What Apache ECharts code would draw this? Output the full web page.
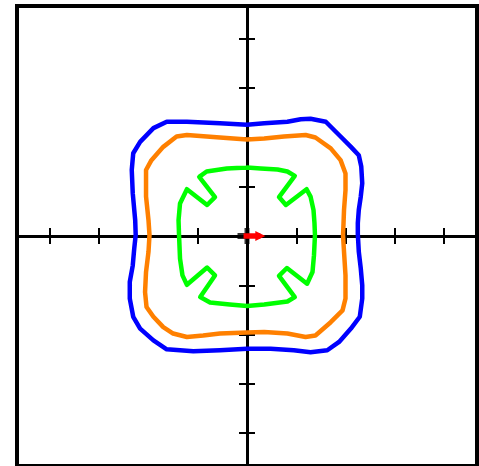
<!DOCTYPE html>
<html>
<head>
<meta charset="utf-8">
<script src="https://cdn.jsdelivr.net/npm/echarts@6/dist/echarts.min.js"></script>
<style>
  html, body { margin: 0; padding: 0; background: #fff; }
  #chart { width: 479px; height: 466px; }
</style>
</head>
<body>
<div id="chart"></div>
<script>
  // axis range and tick positions (same on both axes)
  var axisMin = -4.67;
  var axisMax = 4.67;
  var tickValues = [-4, -3, -2, -1, 1, 2, 3, 4];

  // outer curve (blue), read clockwise from the top
  var blueCurve = [
    [0, 2.26], [0.35, 2.29], [0.82, 2.32], [1.09, 2.37], [1.29, 2.38], [1.60, 2.32],
    [1.90, 2.02], [2.11, 1.81], [2.27, 1.64], [2.32, 1.41], [2.34, 1.07], [2.31, 0.80],
    [2.27, 0.53], [2.25, 0.26], [2.25, 0.04], [2.27, -0.32], [2.31, -0.66], [2.34, -1.00],
    [2.34, -1.27], [2.29, -1.64], [2.11, -1.88], [1.87, -2.15], [1.63, -2.32], [1.29, -2.36],
    [0.95, -2.32], [0.48, -2.29], [0, -2.29], [-0.55, -2.32], [-1.09, -2.34], [-1.63, -2.30],
    [-1.90, -2.12], [-2.17, -1.88], [-2.31, -1.64], [-2.38, -1.27], [-2.38, -0.93], [-2.32, -0.60],
    [-2.29, -0.26], [-2.26, 0.02], [-2.27, 0.32], [-2.32, 0.87], [-2.34, 1.34], [-2.31, 1.68],
    [-2.17, 1.91], [-1.90, 2.19], [-1.63, 2.32], [-1.22, 2.32], [-0.55, 2.29], [0, 2.26]
  ];

  // middle curve (orange)
  var orangeCurve = [
    [0, 1.96], [0.35, 1.98], [0.75, 2.02], [1.19, 2.05], [1.39, 2.00], [1.70, 1.78],
    [1.90, 1.54], [2.00, 1.27], [2.00, 0.93], [1.97, 0.53], [1.96, 0.26], [1.95, 0.02],
    [1.97, -0.32], [2.00, -0.80], [2.00, -1.27], [1.94, -1.51], [1.70, -1.75], [1.39, -2.02],
    [1.19, -2.05], [0.82, -1.98], [0.35, -1.95], [0, -1.96], [-0.55, -1.98], [-0.89, -2.02],
    [-1.22, -2.05], [-1.50, -1.98], [-1.70, -1.85], [-1.90, -1.64], [-2.04, -1.44], [-2.07, -1.14],
    [-2.05, -0.73], [-2.00, -0.32], [-1.98, 0.02], [-2.00, 0.32], [-2.05, 0.80], [-2.05, 1.34],
    [-1.94, 1.54], [-1.70, 1.81], [-1.43, 2.02], [-1.22, 2.05], [-0.55, 2.00], [0, 1.96]
  ];

  // inner curve (green) with the four notches
  var greenCurve = [
    [0, 1.39], [0.28, 1.37], [0.62, 1.35], [0.82, 1.31], [0.97, 1.22], [0.65, 0.79],
    [0.79, 0.63], [1.21, 0.95], [1.29, 0.80], [1.35, 0.53], [1.37, 0.26], [1.38, 0.02],
    [1.36, -0.39], [1.33, -0.73], [1.22, -0.97], [0.81, -0.65], [0.65, -0.81], [0.97, -1.24],
    [0.82, -1.33], [0.35, -1.39], [0, -1.42], [-0.35, -1.39], [-0.75, -1.35], [-0.95, -1.24],
    [-0.65, -0.80], [-0.81, -0.64], [-1.22, -0.99], [-1.31, -0.80], [-1.36, -0.46], [-1.38, 0.02],
    [-1.39, 0.32], [-1.36, 0.66], [-1.22, 0.95], [-0.81, 0.63], [-0.65, 0.79], [-0.97, 1.20],
    [-0.82, 1.31], [-0.41, 1.37], [0, 1.39]
  ];

  // small arrow at the origin
  var originPoint = [0, 0];
  var arrowStart = [-0.07, 0];
  var arrowEnd = [0.27, 0];

  var myChart = echarts.init(document.getElementById('chart'));

  function makeAxis(position) {
    return {
      type: 'value',
      position: position,
      min: axisMin,
      max: axisMax,
      axisLine: {
        show: true,
        onZero: true,
        onZeroAxisIndex: 0,
        lineStyle: {color: '#000', width: 3}
      },
      axisTick: {
        show: true,
        inside: false,
        length: 8,
        customValues: tickValues,
        lineStyle: {color: '#000', width: 2}
      },
      axisLabel: {show: false},
      splitLine: {show: false}
    };
  }

  function curve(data, color) {
    return {
      type: 'line',
      data: data,
      showSymbol: false,
      symbol: 'none',
      smooth: false,
      lineStyle: {color: color, width: 4.5, join: 'round', cap: 'round'},
      z: 3
    };
  }

  var option = {
    animation: false,
    backgroundColor: '#fff',
    grid: {
      left: 17,
      top: 6,
      width: 460,
      height: 460,
      show: true,
      borderColor: '#000',
      borderWidth: 4,
      backgroundColor: 'transparent'
    },
    xAxis: [makeAxis('bottom'), makeAxis('top')],
    yAxis: [makeAxis('left'), makeAxis('right')],
    series: [
      curve(blueCurve, '#0000ff'),
      curve(orangeCurve, '#ff8000'),
      curve(greenCurve, '#00ff00'),
      {
        type: 'scatter',
        data: [originPoint],
        symbol: 'rect',
        symbolSize: [5, 16],
        itemStyle: {color: '#000'},
        z: 4
      },
      {
        type: 'scatter',
        data: [originPoint],
        symbol: 'rect',
        symbolSize: [11, 6],
        symbolOffset: [-4, 0],
        itemStyle: {color: '#000'},
        z: 4
      },
      {
        type: 'lines',
        coordinateSystem: 'cartesian2d',
        symbol: ['none', 'triangle'],
        symbolSize: [11, 10],
        data: [{coords: [arrowStart, arrowEnd]}],
        lineStyle: {color: '#ff0000', width: 5.5, opacity: 1},
        z: 5
      }
    ]
  };

  myChart.setOption(option, true);
</script>
</body>
</html>
